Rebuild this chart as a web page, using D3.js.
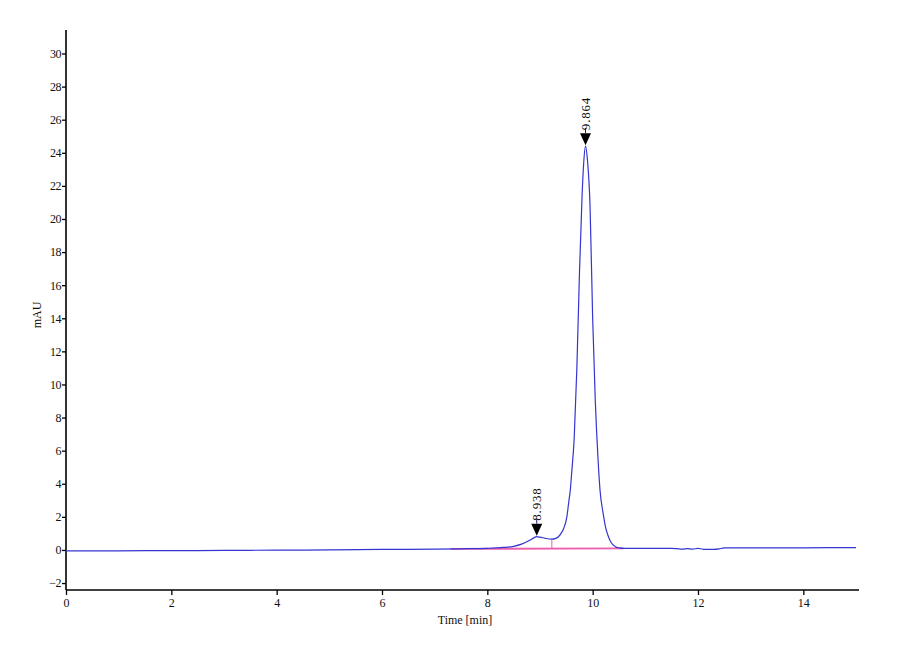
<!DOCTYPE html>
<html>
<head>
<meta charset="utf-8">
<script src="https://cdn.jsdelivr.net/npm/d3@7/dist/d3.min.js"></script>
<style>
  html, body { margin: 0; padding: 0; background: #fff; }
  svg { display: block; }
  text { font-family: "Liberation Serif", "DejaVu Serif", serif; fill: #111; }
</style>
</head>
<body>
<svg id="chart" width="900" height="660"></svg>
<script>
// ---- data ----
const times = [0, 1, 2, 3, 4, 5, 6, 7, 7.5, 8.0, 8.3, 8.5, 8.65, 8.8, 8.9, 8.938, 9.0, 9.1, 9.225, 9.3, 9.35, 9.4, 9.45, 9.51, 9.55, 9.575, 9.6, 9.65, 9.7, 9.75, 9.8, 9.83, 9.864, 9.9, 9.95, 10.0, 10.05, 10.1, 10.14, 10.2, 10.25, 10.3, 10.35, 10.43, 10.5, 10.6, 11.0, 11.5, 11.6, 11.7, 11.8, 11.9, 12.0, 12.1, 12.3, 12.4, 12.5, 13.0, 14.0, 15.0];
const signal = [-0.05, -0.05, -0.04, -0.03, -0.01, 0.0, 0.03, 0.05, 0.07, 0.10, 0.15, 0.22, 0.35, 0.58, 0.76, 0.80, 0.77, 0.70, 0.65, 0.70, 0.80, 1.0, 1.3, 2.0, 3.0, 3.6, 4.6, 6.8, 11.0, 16.8, 21.5, 23.4, 24.4, 23.6, 20.8, 14.0, 9.0, 5.6, 3.6, 2.2, 1.3, 0.8, 0.45, 0.2, 0.13, 0.1, 0.1, 0.1, 0.08, 0.05, 0.08, 0.05, 0.1, 0.04, 0.03, 0.06, 0.12, 0.12, 0.13, 0.14];

const baselineTimes = [7.3, 10.58];
const baselineValues = [0.06, 0.1];
const dropTime = 9.225;
const dropBase = 0.08;
const dropTop = 0.65;

const peakTimes = [8.938, 9.864];
const peakHeights = [0.80, 24.4];
const peakLabels = ["8.938", "9.864"];

const xTicks = [0, 2, 4, 6, 8, 10, 12, 14];
const yTicks = [-2, 0, 2, 4, 6, 8, 10, 12, 14, 16, 18, 20, 22, 24, 26, 28, 30];
const xTitle = "Time [min]";
const yTitle = "mAU";

// ---- drawing ----
const svg = d3.select("#chart");
const x = d3.scaleLinear().domain([0, 15]).range([66, 856]);
const y = d3.scaleLinear().domain([-2.42, 31.42]).range([590, 30]);

const data = times.map((t, i) => ({ t, v: signal[i] }));

// axes
const xAxis = d3.axisBottom(x).tickValues(xTicks).tickSize(5).tickPadding(3).tickFormat(d3.format("d"));
const yAxis = d3.axisLeft(y).tickValues(yTicks).tickSize(4).tickPadding(1).tickFormat(d3.format("d"));

const gx = svg.append("g").attr("transform", `translate(0,${y.range()[0]})`).call(xAxis);
gx.select(".domain").attr("stroke", "#000").attr("stroke-width", 1.6).attr("d", `M${x(0)},0H${x(15) + 3}`);
gx.selectAll(".tick line").attr("stroke", "#000").attr("stroke-width", 1.3);
gx.selectAll(".tick text").style("font-size", "12px").style("font-family", "Liberation Serif, serif").attr("fill", "#222");

const gy = svg.append("g").attr("transform", `translate(${x.range()[0]},0)`).call(yAxis);
gy.select(".domain").attr("stroke", "#000").attr("stroke-width", 1.6).attr("d", `M0,${y.range()[1]}V${y.range()[0]}`);
gy.selectAll(".tick line").attr("stroke", "#000").attr("stroke-width", 1.3);
gy.selectAll(".tick text").style("font-size", "12px").style("font-family", "Liberation Serif, serif").attr("fill", "#222").attr("letter-spacing", "-0.5px");

svg.append("text")
  .attr("transform", `translate(41,${(y.range()[0] + y.range()[1]) / 2 + 5}) rotate(-90)`)
  .attr("text-anchor", "middle")
  .style("font-size", "12px")
  .text(yTitle);

svg.append("text")
  .attr("x", 465).attr("y", 624)
  .attr("text-anchor", "middle")
  .style("font-size", "12px")
  .text(xTitle);

// pink baseline
svg.append("line")
  .attr("x1", x(baselineTimes[0])).attr("y1", y(baselineValues[0]))
  .attr("x2", x(baselineTimes[1])).attr("y2", y(baselineValues[1]))
  .attr("stroke", "#ee5fae").attr("stroke-width", 1.8);
svg.append("line")
  .attr("x1", x(dropTime)).attr("y1", y(dropBase))
  .attr("x2", x(dropTime)).attr("y2", y(dropTop))
  .attr("stroke", "#ee5fae").attr("stroke-width", 1);

// trace
const line = d3.line().x(d => x(d.t)).y(d => y(d.v)).curve(d3.curveMonotoneX);
svg.append("path")
  .datum(data)
  .attr("fill", "none")
  .attr("stroke", "#3535d0")
  .attr("stroke-width", 1.2)
  .attr("d", line);

// peak markers
peakTimes.forEach((t, i) => {
  const px = x(t);
  const py = y(peakHeights[i]) - 1;
  const triH = 12, triW = 11;
  svg.append("line")
    .attr("x1", px).attr("x2", px)
    .attr("y1", py - triH - 5).attr("y2", py - triH)
    .attr("stroke", "#1a1a80").attr("stroke-width", 1);
  svg.append("text")
    .attr("transform", `translate(${px + 4.5},${py - triH - 3}) rotate(-90)`)
    .attr("text-anchor", "start")
    .attr("letter-spacing", "0.8px")
    .style("font-size", "13px")
    .text(peakLabels[i]);
  svg.append("path")
    .attr("d", `M${px - triW / 2},${py - triH}L${px + triW / 2},${py - triH}L${px},${py}Z`)
    .attr("fill", "#000");
});
</script>
</body>
</html>
